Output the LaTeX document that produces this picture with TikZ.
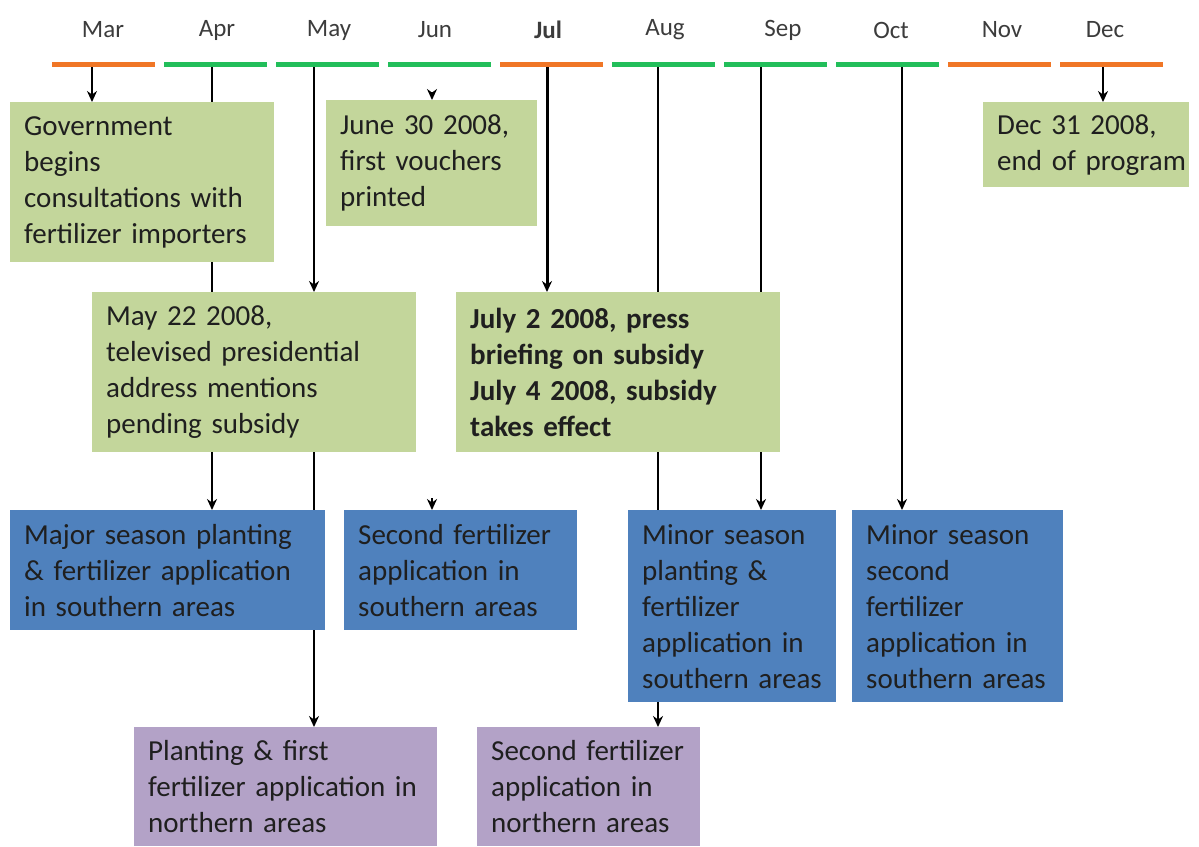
\documentclass[tikz,border=0pt]{standalone}
\usepackage{fontspec}
\setmainfont{Carlito}
\usetikzlibrary{arrows.meta,backgrounds}
\definecolor{boxgreen}{RGB}{195,214,155}
\definecolor{boxblue}{RGB}{79,129,189}
\definecolor{boxpurple}{RGB}{179,162,199}
\definecolor{barorange}{RGB}{240,118,38}
\definecolor{bargreen}{RGB}{34,190,90}
\definecolor{monthgray}{RGB}{60,60,60}
\tikzset{
  event/.style={anchor=north west, inner xsep=14pt, inner ysep=0pt, align=left,
    font=\fontsize{29}{36}\selectfont, text=black!88},
  link/.style={line width=2pt, -{Stealth[length=11pt,width=10pt]}},
}
\begin{document}
\begin{tikzpicture}[x=1pt, y=-1pt]
  \useasboundingbox (0,0) rectangle (1199,846);

  % month bar
  \foreach \i/\x/\m/\c in {0/103/Mar/barorange,1/217/Apr/bargreen,2/329/May/bargreen,
      3/435/Jun/bargreen,4/548/\textbf{Jul}/barorange,5/665/Aug/bargreen,
      6/783/Sep/bargreen,7/891/Oct/bargreen,8/1002/Nov/barorange,9/1105/Dec/barorange} {
    \draw[\c, line width=5pt] (52+112*\i,64) -- (155+112*\i,64);
    \node[font=\fontsize{25}{28}\selectfont, text=monthgray] at (\x,30) {\m};
  }
  \coordinate (mar) at (92,66);
  \coordinate (apr) at (212,66);
  \coordinate (may) at (314,66);
  \coordinate (jul) at (547,66);
  \coordinate (aug) at (658,66);
  \coordinate (sep) at (761,66);
  \coordinate (oct) at (902,66);
  \coordinate (dec) at (1103,66);
  \coordinate (junA) at (432,92);
  \coordinate (junB) at (432,498);

  % first row
  \node[event, fill=boxgreen, text width=236pt, minimum height=160pt] (govt) at (10,102)
    {Government\\begins\\consultations with\\fertilizer importers};
  \node[event, fill=boxgreen, text width=183pt, minimum height=126pt] (vouchers) at (326,100)
    {June 30 2008,\\first vouchers\\printed};
  \node[event, fill=boxgreen, text width=178pt, minimum height=85pt] (endprog) at (983,102)
    {Dec 31 2008,\\\mbox{end of program}};

  % second row
  \node[event, fill=boxgreen, text width=296pt, minimum height=160pt] (address) at (92,292)
    {May 22 2008,\\televised presidential\\address mentions\\pending subsidy};
  \node[event, fill=boxgreen, text width=296pt, minimum height=160pt, font=\fontsize{29}{36}\selectfont\bfseries] (briefing) at (456,292)
    {July 2 2008, press\\briefing on subsidy\\July 4 2008, subsidy\\takes effect};

  % southern areas
  \node[event, fill=boxblue, text width=287pt, minimum height=120pt] (majorsouth) at (10,510)
    {Major season planting\\\& fertilizer application\\in southern areas};
  \node[event, fill=boxblue, text width=205pt, minimum height=120pt] (secondsouth) at (344,510)
    {Second fertilizer\\application in\\southern areas};
  \node[event, fill=boxblue, text width=180pt, minimum height=192pt] (minorplant) at (628,510)
    {Minor season\\planting \&\\fertilizer\\application in\\southern areas};
  \node[event, fill=boxblue, text width=183pt, minimum height=192pt] (minorsecond) at (852,510)
    {Minor season\\second\\fertilizer\\application in\\southern areas};

  % northern areas
  \node[event, fill=boxpurple, text width=275pt, minimum height=119pt] (plantnorth) at (134,727)
    {Planting \& first\\fertilizer application in\\northern areas};
  \node[event, fill=boxpurple, text width=195pt, minimum height=119pt] (secondnorth) at (477,727)
    {Second fertilizer\\application in\\northern areas};

  % connectors
  \begin{scope}[on background layer]
    \draw[link] (mar) -- (mar |- govt.north);
    \draw[link] (apr) -- (apr |- majorsouth.north);
    \draw[link] (may) -- (may |- address.north);
    \draw[link] (may |- address.south) -- (may |- plantnorth.north);
    \draw[link, line width=3pt] (jul) -- (jul |- briefing.north);
    \draw[link] (aug) -- (aug |- secondnorth.north);
    \draw[link] (sep) -- (sep |- minorplant.north);
    \draw[link] (oct) -- (oct |- minorsecond.north);
    \draw[link] (dec) -- (dec |- endprog.north);
  \end{scope}
  \draw[link] (junA) -- (junA |- vouchers.north);
  \draw[link] (junB) -- (junB |- secondsouth.north);
\end{tikzpicture}
\end{document}
